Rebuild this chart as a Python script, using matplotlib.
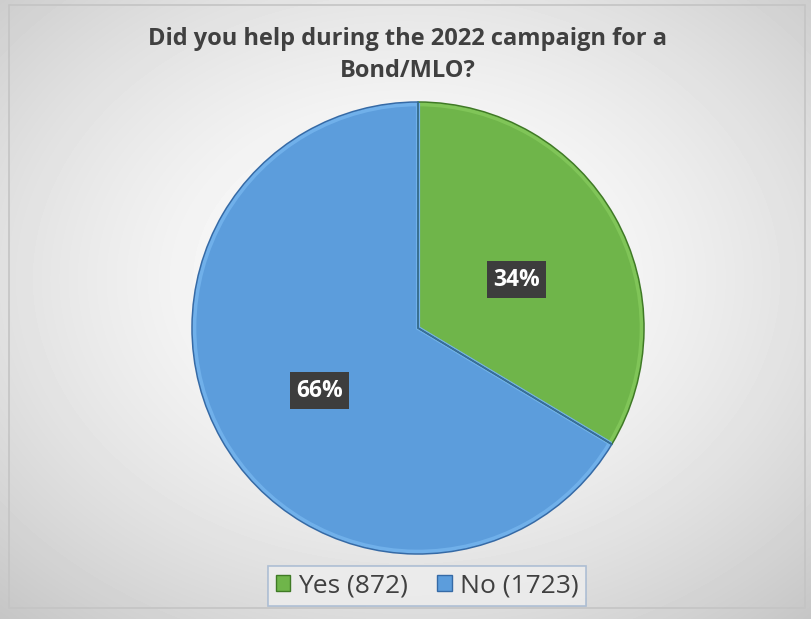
import numpy as np
import matplotlib.pyplot as plt
from matplotlib.patches import Rectangle

plt.rcParams['font.family'] = ['Open Sans', 'DejaVu Sans']

title = 'Did you help during the 2022 campaign for a\nBond/MLO?'
labels = ['Yes (872)', 'No (1723)']
counts = [872, 1723]
colors = ['#6fb54a', '#5c9ddc']
bevel = ['#80c558', '#70b0ea']
edges = ['#3f7a25', '#356aa6']

W, H = 812, 619
fig = plt.figure(figsize=(W / 100, H / 100), dpi=100)

# background with soft radial gradient
bg = fig.add_axes([0, 0, 1, 1])
yy, xx = np.mgrid[0:H, 0:W]
r = np.sqrt(((xx - W / 2) / (W * 0.62)) ** 2 + ((yy - H * 0.45) / (H * 0.62)) ** 2)
shade = np.clip(1.0 - 0.17 * r ** 1.6, 0, 1)
bg.imshow(shade, cmap='gray', vmin=0, vmax=1, aspect='auto', extent=[0, W, H, 0])
bg.set_xlim(0, W)
bg.set_ylim(H, 0)
bg.add_patch(Rectangle((9, 5), 796, 603, fill=False, edgecolor='#c4c4c4', lw=1.2))
bg.axis('off')

# pie
cx, cy, rad = 418, 328, 226
pad = 240
ax = fig.add_axes([(cx - pad) / W, (H - cy - pad) / H, 2 * pad / W, 2 * pad / H])
# soft bevel band under the main faces
wedges, _ = ax.pie(counts, colors=colors, startangle=90, counterclock=False,
                   radius=0.99, wedgeprops=dict(linewidth=3))
for w, bc in zip(wedges, bevel):
    w.set_edgecolor(bc)
# thin dark outline and percentage labels
outl, texts, autotexts = ax.pie(
    counts, colors=['none', 'none'], startangle=90, counterclock=False,
    autopct='%1.0f%%', pctdistance=0.5, radius=1,
    wedgeprops=dict(linewidth=1.1),
    textprops=dict(color='white', fontsize=16.5, fontweight='bold'))
for w, ec in zip(outl, edges):
    w.set_edgecolor(ec)
for t in autotexts:
    x, y = t.get_position()
    t.set_position((x, y - 0.032))
    t.set_bbox(dict(boxstyle='square,pad=0.28', facecolor='#3d3d3d', edgecolor='none'))
ax.set_xlim(-pad / rad, pad / rad)
ax.set_ylim(-pad / rad, pad / rad)
ax.set_aspect('auto')
ax.axis('off')

fig.text(408 / W, 1 - 55 / H, title, ha='center', va='center', fontsize=17,
         fontweight='bold', color='#404040', linespacing=1.45)

leg = fig.legend(wedges, labels, loc='center', bbox_to_anchor=(427 / W, 1 - 586 / H),
                 ncol=2, frameon=True, fancybox=False, fontsize=19,
                 handlelength=0.55, handleheight=0.55, handletextpad=0.3,
                 columnspacing=1.1, borderpad=0.3, borderaxespad=0)
leg.get_frame().set_edgecolor('#9fb4cf')
leg.get_frame().set_facecolor('#eeeeee')
leg.get_frame().set_linewidth(1.2)
for h, ec in zip(leg.legend_handles, edges):
    h.set_edgecolor(ec)
    h.set_linewidth(1)
for t in leg.get_texts():
    t.set_color('#404040')

fig.savefig('out.png', dpi=100)
